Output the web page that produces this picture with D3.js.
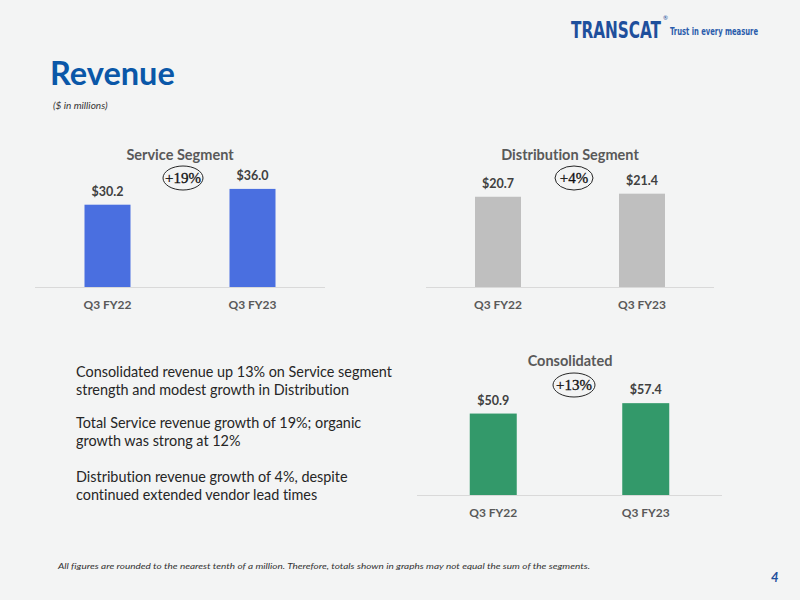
<!DOCTYPE html>
<html>
<head>
<meta charset="utf-8">
<script src="https://cdn.jsdelivr.net/npm/d3@7"></script>
<style>
  html, body { margin: 0; padding: 0; background: #f3f4f4; }
  svg { display: block; }
  text { font-variant-ligatures: none; }
</style>
</head>
<body>
<svg id="chart" width="800" height="600"></svg>
<script>
// ---- Data ----
const categories = ["Q3 FY22", "Q3 FY23"];
const serviceValues = [30.2, 36.0];
const distributionValues = [20.7, 21.4];
const consolidatedValues = [50.9, 57.4];
const growthLabels = ["+19%", "+4%", "+13%"];
const chartTitles = ["Service Segment", "Distribution Segment", "Consolidated"];
const bulletLines = [
  ["Consolidated revenue up 13% on Service segment", "strength and modest growth in Distribution"],
  ["Total Service revenue growth of 19%; organic", "growth was strong at 12%"],
  ["Distribution revenue growth of 4%, despite", "continued extended vendor lead times"]
];

const svg = d3.select("#chart");
const FONT = "Lato, 'Open Sans', sans-serif";

svg.append("rect").attr("width", 800).attr("height", 600).attr("fill", "#f3f4f4");

// ---- Header ----
const logo = svg.append("g");
logo.append("text").attr("transform", "translate(571,38) scale(1,1.4)")
  .attr("font-family", "'DejaVu Sans Condensed', 'DejaVu Sans', sans-serif")
  .attr("font-weight", "bold").attr("font-size", 17).attr("fill", "#1e4f9c")
  .attr("textLength", 90).attr("lengthAdjust", "spacingAndGlyphs")
  .text("TRANSCAT");
logo.append("text").attr("x", 663).attr("y", 20)
  .attr("font-family", FONT).attr("font-size", 6).attr("fill", "#1e4f9c").text("®");
logo.append("text").attr("x", 670).attr("y", 35)
  .attr("font-family", "'Liberation Sans Narrow', 'DejaVu Sans Condensed', sans-serif")
  .attr("font-weight", "bold").attr("font-size", 10.5).attr("fill", "#2a5cab")
  .attr("textLength", 88).attr("lengthAdjust", "spacingAndGlyphs")
  .text("Trust in every measure");

svg.append("text").attr("x", 50).attr("y", 85)
  .attr("font-family", FONT).attr("font-weight", "bold").attr("font-size", 32.5)
  .attr("fill", "#0a57a8").text("Revenue");
svg.append("text").attr("x", 53).attr("y", 109)
  .attr("font-family", FONT).attr("font-style", "italic").attr("font-size", 10)
  .attr("fill", "#333").text("($ in millions)");

// ---- Bar charts ----
function barChart(cfg) {
  const g = svg.append("g");
  const x = d3.scalePoint().domain(categories).range([cfg.x0, cfg.x1]).padding(0.5);
  const y = d3.scaleLinear().domain([0, cfg.max]).range([cfg.base, cfg.base - cfg.h]);

  g.append("line").attr("x1", cfg.x0).attr("x2", cfg.x1)
    .attr("y1", cfg.base + 0.5).attr("y2", cfg.base + 0.5)
    .attr("stroke", "#d9d9d9").attr("stroke-width", 1);

  g.selectAll("rect.bar").data(cfg.values).join("rect")
    .attr("class", "bar")
    .attr("x", (d, i) => x(categories[i]) - cfg.bw / 2)
    .attr("width", cfg.bw)
    .attr("y", d => y(d))
    .attr("height", d => y(0) - y(d))
    .attr("fill", cfg.color);

  g.selectAll("text.val").data(cfg.values).join("text")
    .attr("class", "val")
    .attr("x", (d, i) => x(categories[i]))
    .attr("y", d => y(d) - 9)
    .attr("text-anchor", "middle")
    .attr("font-family", FONT).attr("font-weight", "bold").attr("font-size", 12.5)
    .attr("fill", "#404040")
    .text(d => "$" + d.toFixed(1));

  g.selectAll("text.cat").data(categories).join("text")
    .attr("class", "cat")
    .attr("x", d => x(d))
    .attr("y", cfg.base + 22)
    .attr("text-anchor", "middle")
    .attr("font-family", FONT).attr("font-weight", "bold").attr("font-size", 12)
    .attr("fill", "#595959")
    .text(d => d);

  g.append("text").attr("x", cfg.titleX).attr("y", cfg.titleY)
    .attr("text-anchor", "middle")
    .attr("font-family", FONT).attr("font-weight", "bold").attr("font-size", 14.5)
    .attr("fill", "#595959").text(cfg.title);

  g.append("ellipse").attr("cx", cfg.ovalX).attr("cy", cfg.ovalY)
    .attr("rx", cfg.rx).attr("ry", 12)
    .attr("fill", "#f3f4f4").attr("stroke", "#262626").attr("stroke-width", 1);
  g.append("text").attr("x", cfg.ovalX).attr("y", cfg.ovalY + 5)
    .attr("text-anchor", "middle")
    .attr("font-family", "'Liberation Serif', 'DejaVu Serif', serif")
    .attr("font-size", 15).attr("fill", "#111").attr("stroke", "#111").attr("stroke-width", 0.3)
    .text(cfg.growth);
}

barChart({ values: serviceValues, x0: 35, x1: 325, base: 287, max: 40, h: 109,
  bw: 46, color: "#4a6fe0", title: chartTitles[0], titleX: 180, titleY: 160,
  ovalX: 183, ovalY: 178, rx: 20, growth: growthLabels[0] });

barChart({ values: distributionValues, x0: 426, x1: 714, base: 287, max: 25, h: 109,
  bw: 46, color: "#bfbfbf", title: chartTitles[1], titleX: 570, titleY: 160,
  ovalX: 574, ovalY: 178, rx: 19, growth: growthLabels[1] });

barChart({ values: consolidatedValues, x0: 417, x1: 722, base: 495, max: 70, h: 112,
  bw: 47, color: "#33996a", title: chartTitles[2], titleX: 570, titleY: 366,
  ovalX: 574, ovalY: 385, rx: 21, growth: growthLabels[2] });

// ---- Bullet text ----
const paraTops = [377, 428, 482];
bulletLines.forEach((lines, pi) => {
  lines.forEach((ln, li) => {
    svg.append("text").attr("x", 76).attr("y", paraTops[pi] + li * 18)
      .attr("font-family", FONT).attr("font-size", 14.4).attr("fill", "#262626")
      .text(ln);
  });
});

// ---- Footer ----
svg.append("text").attr("x", 58).attr("y", 569)
  .attr("font-family", FONT).attr("font-style", "italic").attr("font-size", 8.5)
  .attr("fill", "#333").attr("textLength", 532).attr("lengthAdjust", "spacingAndGlyphs")
  .text("All figures are rounded to the nearest tenth of a million. Therefore, totals shown in graphs may not equal the sum of the segments.");
svg.append("text").attr("x", 771).attr("y", 582)
  .attr("font-family", FONT).attr("font-style", "italic").attr("font-weight", "bold")
  .attr("font-size", 13).attr("fill", "#1e4f9c").text("4");
</script>
</body>
</html>
